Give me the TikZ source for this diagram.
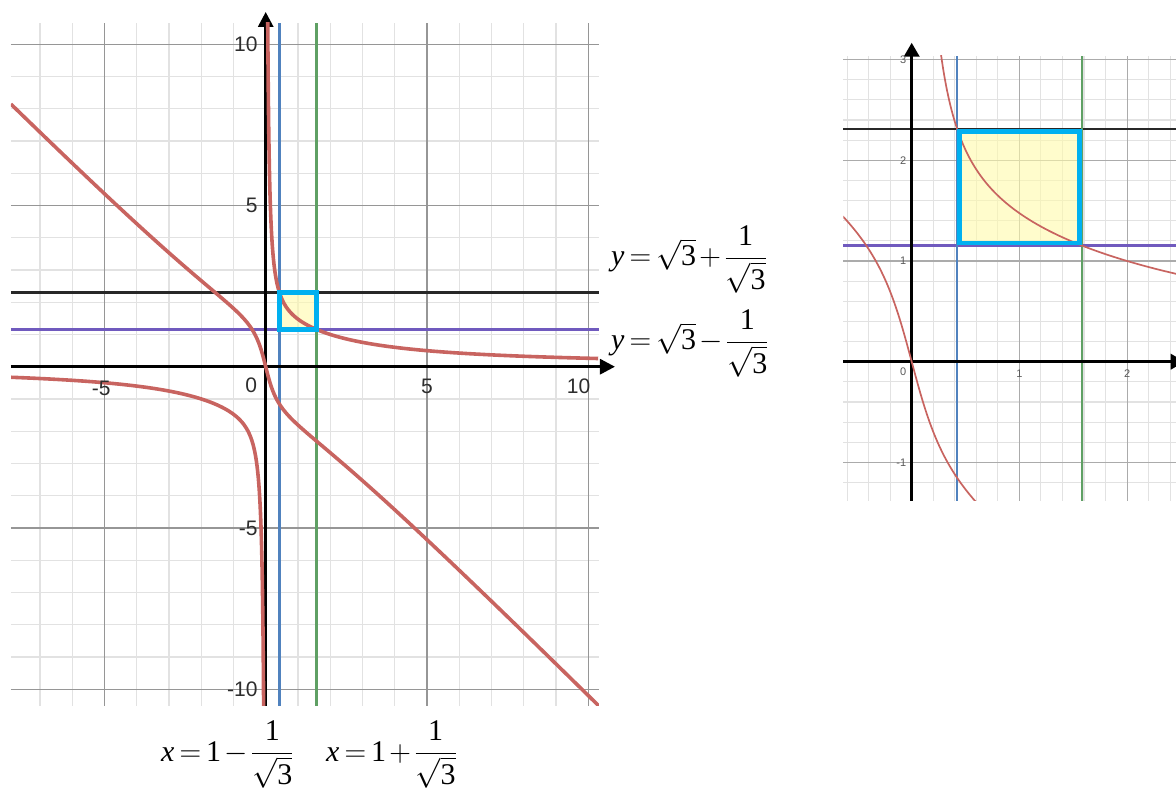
\RequirePackage{fix-cm}
\documentclass[tikz,border=0pt]{standalone}
\usepackage{amsmath}
\usepackage{fontspec}
\setmainfont{Liberation Serif}
\newfontfamily\ticksf{Liberation Sans}
\usetikzlibrary{arrows.meta}
\definecolor{crv}{RGB}{200,100,96}
\definecolor{lblue}{RGB}{80,130,190}
\definecolor{lgreen}{RGB}{95,160,100}
\definecolor{lpurple}{RGB}{112,90,190}
\definecolor{lblack}{RGB}{40,40,40}
\definecolor{bcyan}{RGB}{0,176,240}
\definecolor{yfill}{RGB}{255,250,170}
\definecolor{gmin}{RGB}{226,226,226}
\definecolor{gmaj}{RGB}{150,150,150}
\definecolor{tickc}{RGB}{45,45,45}
\tikzset{
  declare function={
    Bf(\x)=3*\x-2/\x;
    gone(\x)=(sqrt(Bf(\x)*Bf(\x)+96)-Bf(\x))/6;
    gtwo(\x)=-(sqrt(Bf(\x)*Bf(\x)+96)+Bf(\x))/6;
    Af(\x)=3*\x*\x-2;
    gd(\x)=-16*\x/(sqrt(Af(\x)*Af(\x)+96*\x*\x)-Af(\x));
  },
  gminor/.style={gmin,line width=1.3pt},
  gmajor/.style={gmaj,line width=1.3pt},
  axisline/.style={black,line width=3pt,-{Triangle[length=15pt,width=15pt]}},
  ticklab/.style={font=\ticksf\fontsize{21}{24}\selectfont,text=tickc,inner sep=0pt},
  smalltick/.style={font=\ticksf\fontsize{11}{13}\selectfont,text=black!65,inner sep=0pt},
  eqlab/.style={font=\fontsize{30}{36}\selectfont,inner sep=0pt,anchor=base west},
}
\begin{document}
\begin{tikzpicture}[x=1pt,y=-1pt]
\useasboundingbox (0,0) rectangle (1176,791);
\clip (0,0) rectangle (1176,791);
% ---------------- left graph ----------------
\begin{scope}[shift={(265.7pt,-366.7pt)},x=32.25pt,y=32.25pt]
  \foreach \i in {-7,...,10} \draw[gminor] (\i,-10.52) -- (\i,10.66);
  \foreach \j in {-10,...,10} \draw[gminor] (-7.9,\j) -- (10.33,\j);
  \foreach \i in {-5,5,10} \draw[gmajor] (\i,-10.52) -- (\i,10.66);
  \foreach \j in {-10,-5,5,10} \draw[gmajor] (-7.9,\j) -- (10.33,\j);
  \fill[yfill,fill opacity=0.6] (0.4226,1.1547) rectangle (1.5774,2.3094);
  \draw[lblack,line width=3pt] (-7.9,2.3094) -- (10.33,2.3094);
  \draw[lpurple,line width=3pt] (-7.9,1.1547) -- (10.33,1.1547);
  \draw[lblue,line width=3pt] (0.4226,-10.52) -- (0.4226,10.66);
  \draw[lgreen,line width=3pt] (1.5774,-10.52) -- (1.5774,10.66);
  \draw[axisline] (-7.9,0) -- (10.83,0);
  \draw[axisline] (0,-10.52) -- (0,11.0);
  \begin{scope}
    \clip (-7.9,-10.52) rectangle (10.33,10.66);
    \draw[crv,line width=3.6pt] plot[domain=-2.813:2.335,samples=220,variable=\t,smooth] ({exp(\t)},{gone(exp(\t))});
    \draw[crv,line width=3.6pt] plot[domain=-2.813:2.067,samples=220,variable=\t,smooth] ({-exp(\t)},{gtwo(-exp(\t))});
    \draw[crv,line width=3.6pt] plot[domain=-7.9:-2,samples=40] (\x,{gone(\x)}) -- plot[domain=-2:2,samples=120] (\x,{gd(\x)}) -- plot[domain=2:10.33,samples=60] (\x,{gtwo(\x)});
  \end{scope}
  \draw[bcyan,line width=4.6pt] (0.4226,1.1547) rectangle (1.5774,2.3094);
  % tick labels
  \node[ticklab,anchor=east] (ly10) at (-0.25,10) {10};
  \node[ticklab,anchor=east] (ly5) at (-0.25,5) {5};
  \node[ticklab,anchor=east] (lym5) at (-0.25,-5) {-5};
  \node[ticklab,anchor=east] (lym10) at (-0.25,-10) {-10};
  \node[ticklab] (lxm5) at (-5.1,-0.66) {-5};
  \node[ticklab,anchor=east] (lx0) at (-0.26,-0.57) {0};
  \node[ticklab] (lx5) at (5,-0.62) {5};
  \node[ticklab] (lx10) at (9.7,-0.62) {10};
\end{scope}
% ---------------- right graph ----------------
\begin{scope}[shift={(911.7pt,-361.7pt)},x=107.7pt,y=100.7pt]
  \foreach \i in {-3,...,12} \draw[gminor,line width=1.1pt] ({\i/5},-1.383) -- ({\i/5},3.036);
  \foreach \j in {-6,...,15} \draw[gminor,line width=1.1pt] (-0.635,{\j/5}) -- (2.46,{\j/5});
  \foreach \i in {1,2} \draw[gmajor,line width=1.1pt,gmaj!80] (\i,-1.383) -- (\i,3.036);
  \foreach \j in {-1,1,2,3} \draw[gmajor,line width=1.1pt,gmaj!80] (-0.635,\j) -- (2.46,\j);
  \fill[yfill,fill opacity=0.6] (0.4226,1.1547) rectangle (1.5774,2.3094);
  \draw[lblack,line width=2.3pt] (-0.635,2.3094) -- (2.46,2.3094);
  \draw[lpurple,line width=2.2pt] (-0.635,1.1547) -- (2.46,1.1547);
  \draw[lblue,line width=2pt] (0.4226,-1.383) -- (0.4226,3.036);
  \draw[lgreen,line width=2pt] (1.5774,-1.383) -- (1.5774,3.036);
  \draw[black,line width=3.5pt,-{Triangle[length=14pt,width=15pt]}] (-0.635,0) -- (2.535,0);
  \draw[black,line width=3.5pt,-{Triangle[length=14pt,width=15pt]}] (0,-1.383) -- (0,3.168);
  \begin{scope}
    \clip (-0.635,-1.383) rectangle (2.46,3.036);
    \draw[crv,line width=1.7pt] plot[domain=-1.7:0.93,samples=120,variable=\t,smooth] ({exp(\t)},{gone(exp(\t))});
    \draw[crv,line width=1.7pt] plot[domain=-0.65:0.7,samples=100,smooth] (\x,{gd(\x)});
  \end{scope}
  \draw[bcyan,line width=4.7pt] (0.4444,1.1780) rectangle (1.5556,2.2861);
  \node[smalltick,anchor=east] (ry3) at (-0.05,3) {3};
  \node[smalltick,anchor=east] (ry2) at (-0.05,2) {2};
  \node[smalltick,anchor=east] (ry1) at (-0.05,1) {1};
  \node[smalltick,anchor=east] (rym1) at (-0.05,-1) {-1};
  \node[smalltick,anchor=east] (rx0) at (-0.05,-0.1) {0};
  \node[smalltick] (rx1) at (1,-0.115) {1};
  \node[smalltick] (rx2) at (2,-0.115) {2};
\end{scope}
% ---------------- equations ----------------
\node[eqlab] (eqA) at (611,266) {$\medmuskip=2mu\thickmuskip=3mu\textit{y}=\sqrt{\mbox{3}}+\dfrac{\mbox{1}}{\sqrt{\mbox{3}}}$};
\node[eqlab] (eqB) at (611,350) {$\medmuskip=2mu\thickmuskip=3mu\textit{y}=\sqrt{\mbox{3}}-\dfrac{\mbox{1}}{\sqrt{\mbox{3}}}$};
\node[eqlab] (eqC) at (161,761) {$\medmuskip=2mu\thickmuskip=3mu\textit{x}=\mbox{1}-\dfrac{\mbox{1}}{\sqrt{\mbox{3}}}$};
\node[eqlab] (eqD) at (326,761) {$\medmuskip=2mu\thickmuskip=3mu\textit{x}=\mbox{1}+\dfrac{\mbox{1}}{\sqrt{\mbox{3}}}$};
\end{tikzpicture}
\end{document}
